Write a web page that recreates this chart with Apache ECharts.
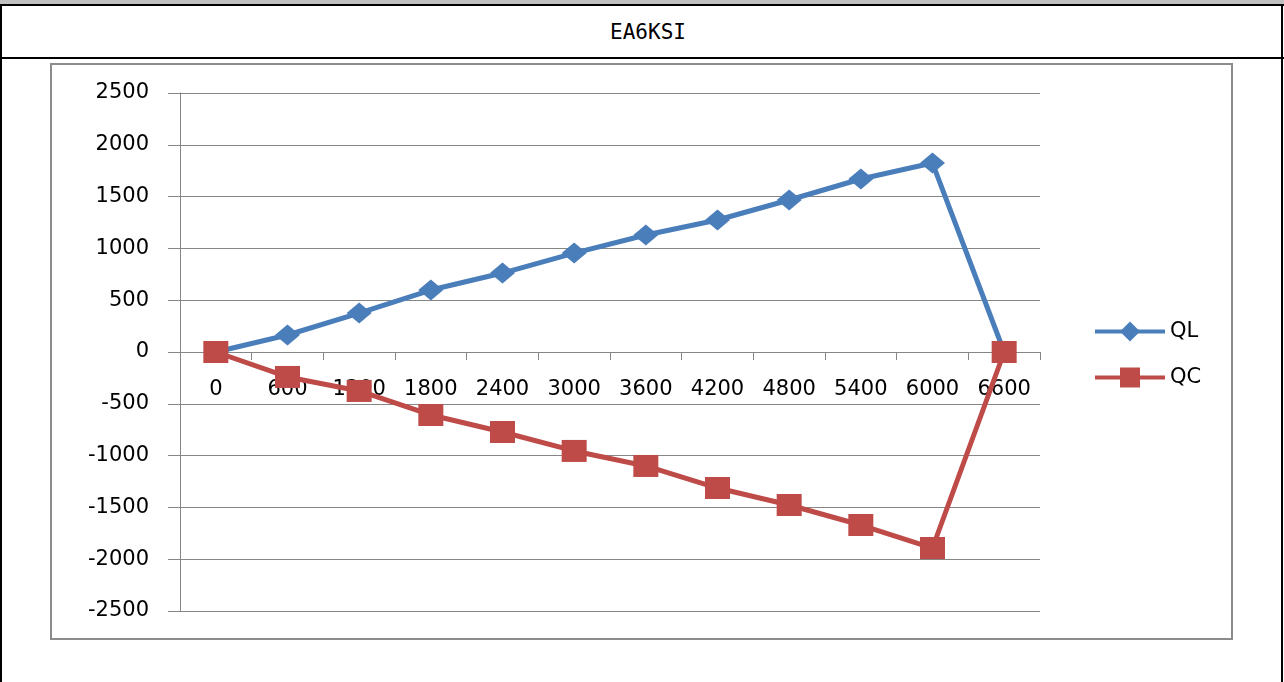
<!DOCTYPE html>
<html>
<head>
<meta charset="utf-8">
<script src="https://cdn.jsdelivr.net/npm/echarts@6/dist/echarts.min.js"></script>
<style>
  html, body { margin: 0; padding: 0; background: #fff; width: 1284px; height: 682px; overflow: hidden; }
  .abs { position: absolute; }
  #band { left: 0; top: 0; width: 1284px; height: 4px; background: #c0c0c0; }
  #topline { left: 0; top: 4px; width: 1284px; height: 2px; background: #000; }
  #leftline { left: 0; top: 4px; width: 2px; height: 678px; background: #000; }
  #rightline { left: 1281px; top: 4px; width: 2px; height: 678px; background: #000; }
  #midline { left: 0; top: 57px; width: 1284px; height: 2px; background: #000; }
  #title { left: 2px; top: 7px; width: 1292px; height: 51px; line-height: 51px; text-align: center;
           font-family: "DejaVu Sans Mono", "Liberation Mono", monospace; font-size: 21px; color: #000; }
  #box { left: 50px; top: 63px; width: 1179px; height: 573px; border: 2px solid #8c8c8c; background: #fff; }
  #chart { left: 52px; top: 65px; width: 1179px; height: 573px; }
</style>
</head>
<body>
<div id="band" class="abs"></div>
<div id="topline" class="abs"></div>
<div id="leftline" class="abs"></div>
<div id="rightline" class="abs"></div>
<div id="midline" class="abs"></div>
<div id="title" class="abs">EA6KSI</div>
<div id="box" class="abs"></div>
<div id="chart" class="abs"></div>
<script>
const categories = ['0','600','1200','1800','2400','3000','3600','4200','4800','5400','6000','6600'];
const qlValues = [0, 164, 376, 598, 762, 955, 1129, 1274, 1467, 1670, 1824, 0];
const qcValues = [0, -241, -376, -608, -772, -955, -1100, -1313, -1477, -1670, -1892, 0];
const seriesNames = ['QL', 'QC'];

const chart = echarts.init(document.getElementById('chart'), null, { renderer: 'canvas' });
const axisGray = '#868686';
const font = 'DejaVu Sans';
chart.setOption({
  animation: false,
  backgroundColor: 'transparent',
  grid: { left: 128, top: 28, width: 860, height: 518, containLabel: false, outerBoundsMode: 'none' },
  legend: {
    orient: 'vertical',
    left: 1036,
    top: 251,
    itemWidth: 70,
    itemHeight: 25,
    itemGap: 25,
    lineStyle: { width: 4 },
    textStyle: { fontFamily: font, fontSize: 21, color: '#000' },
    data: seriesNames
  },
  xAxis: {
    type: 'category',
    data: categories,
    boundaryGap: true,
    offset: -259,
    axisLine: { onZero: false, lineStyle: { color: axisGray, width: 1 } },
    axisTick: { show: true, length: 8, lineStyle: { color: axisGray } },
    axisLabel: { margin: 27, interval: 0, fontFamily: font, fontSize: 21, color: '#000' },
    splitLine: { show: false }
  },
  yAxis: {
    type: 'value',
    min: -2500,
    max: 2500,
    interval: 500,
    axisLine: { show: true, onZero: false, lineStyle: { color: axisGray, width: 1 } },
    axisTick: { show: true, length: 12, lineStyle: { color: axisGray } },
    axisLabel: { margin: 31, fontFamily: font, fontSize: 21, color: '#000', formatter: v => String(v) },
    splitLine: { show: true, lineStyle: { color: axisGray, width: 1 } }
  },
  series: [
    {
      name: seriesNames[0],
      type: 'line',
      data: qlValues,
      symbol: 'diamond',
      symbolSize: [25, 21],
      lineStyle: { color: '#4A7EBB', width: 5 },
      itemStyle: { color: '#4A7EBB' },
      z: 2
    },
    {
      name: seriesNames[1],
      type: 'line',
      data: qcValues,
      symbol: 'rect',
      symbolSize: [25, 22],
      lineStyle: { color: '#BE4B48', width: 5 },
      itemStyle: { color: '#BE4B48' },
      z: 3
    }
  ]
});
</script>
</body>
</html>
